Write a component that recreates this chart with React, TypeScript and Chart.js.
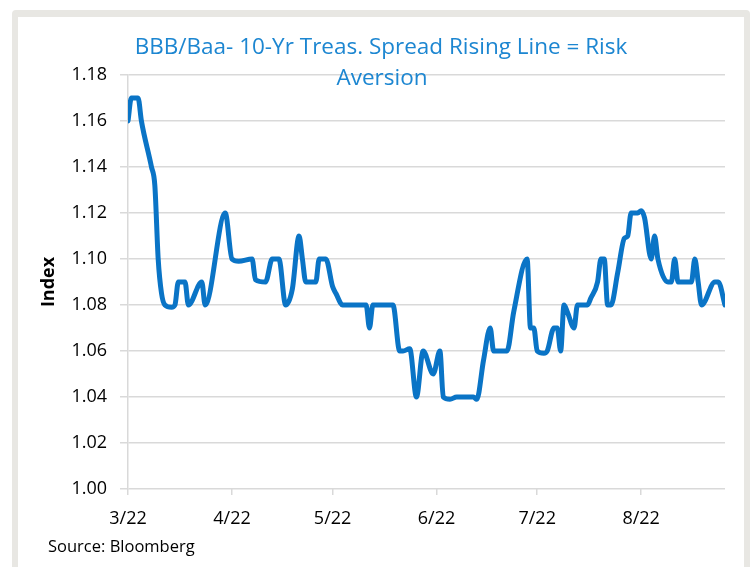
import React, { useEffect, useRef } from 'react';
import { Chart, registerables } from 'chart.js';

Chart.register(...registerables);

const TITLE_LINES = ['BBB/Baa- 10-Yr Treas. Spread Rising Line = Risk', 'Aversion'];
const Y_AXIS_TITLE = 'Index';
const SOURCE_TEXT = 'Source: Bloomberg';

const MONTH_LABELS = ['3/22', '4/22', '5/22', '6/22', '7/22', '8/22'];
const MONTH_START_DAYS = [0, 31, 61, 92, 122, 153];

const Y_TICK_MIN = 1.0;
const Y_TICK_MAX = 1.18;
const Y_TICK_STEP = 0.02;
const X_LAST_DAY = 178;

// Day offset from 1 March 2022
const DAYS = [
  0, 1, 2, 3, 4, 7, 8, 9, 10, 11, 13, 14, 15, 17, 18, 22, 23, 29, 31, 33,
  37, 38, 41, 43, 45, 47, 49, 51, 52, 53, 56, 57, 59, 61, 62, 64, 71, 72, 73, 79,
  81, 82, 84, 86, 88, 91, 93, 94, 96, 98, 103, 104, 106, 108, 109, 111, 113, 115, 119, 120,
  121, 122, 124, 125, 127, 128, 129, 130, 131, 133, 134, 137, 138, 140, 141, 142, 143, 144, 146, 148,
  149, 150, 152, 153, 154, 156, 157, 158, 161, 162, 163, 164, 168, 169, 170, 171, 175, 176, 178,
];

const VALUES = [
  1.16, 1.17, 1.17, 1.17, 1.16, 1.14, 1.132, 1.10, 1.085, 1.08, 1.079, 1.08, 1.09, 1.09, 1.08, 1.09, 1.08, 1.12, 1.10, 1.099,
  1.10, 1.091, 1.09, 1.10, 1.10, 1.08, 1.087, 1.11, 1.10, 1.09, 1.09, 1.10, 1.10, 1.088, 1.085, 1.08, 1.08, 1.07, 1.08, 1.08,
  1.06, 1.06, 1.061, 1.04, 1.06, 1.05, 1.06, 1.04, 1.039, 1.04, 1.04, 1.039, 1.056, 1.07, 1.06, 1.06, 1.06, 1.077, 1.10, 1.07,
  1.07, 1.06, 1.059, 1.06, 1.07, 1.07, 1.06, 1.08, 1.077, 1.07, 1.08, 1.08, 1.083, 1.09, 1.10, 1.10, 1.08, 1.08, 1.094, 1.109,
  1.11, 1.12, 1.12, 1.121, 1.118, 1.10, 1.11, 1.10, 1.09, 1.09, 1.10, 1.09, 1.09, 1.10, 1.09, 1.08, 1.09, 1.09, 1.08,
];

const LINE_COLOR = '#0a74c6';
const TITLE_COLOR = '#1c86d1';
const GRID_COLOR = '#d9d9d9';
const FONT_FAMILY = '"Open Sans", "Noto Sans", sans-serif';

const overlayText = {
  id: 'overlayText',
  afterDraw(chart: any) {
    const ctx = chart.ctx as CanvasRenderingContext2D;
    ctx.save();
    ctx.fillStyle = TITLE_COLOR;
    ctx.font = `22.5px ${FONT_FAMILY}`;
    ctx.textAlign = 'center';
    ctx.textBaseline = 'alphabetic';
    ctx.fillText(TITLE_LINES[0], 381, 54);
    ctx.fillText(TITLE_LINES[1], 382, 85);
    ctx.fillStyle = '#000000';
    ctx.font = `16.5px ${FONT_FAMILY}`;
    ctx.textAlign = 'left';
    ctx.fillText(SOURCE_TEXT, 48, 552);
    ctx.restore();
  },
};

export default function App() {
  const canvasRef = useRef<HTMLCanvasElement | null>(null);

  useEffect(() => {
    if (!canvasRef.current) return;
    const chart = new Chart(canvasRef.current, {
      type: 'line',
      data: {
        datasets: [
          {
            data: DAYS.map((d, i) => ({ x: d, y: VALUES[i] })),
            borderColor: LINE_COLOR,
            borderWidth: 5,
            pointRadius: 0,
            pointHoverRadius: 0,
            fill: false,
            cubicInterpolationMode: 'monotone',
            borderCapStyle: 'round',
            borderJoinStyle: 'round',
          },
        ],
      },
      options: {
        responsive: false,
        animation: false,
        devicePixelRatio: 1,
        layout: { padding: { top: 75, right: 29, bottom: 0, left: 0 } },
        plugins: {
          legend: { display: false },
          tooltip: { enabled: false },
          title: { display: false },
        },
        scales: {
          x: {
            type: 'linear',
            min: 0,
            max: X_LAST_DAY,
            afterBuildTicks: (scale: any) => {
              scale.ticks = MONTH_START_DAYS.map((v) => ({ value: v }));
            },
            afterFit: (scale: any) => {
              scale.height = 78;
            },
            grid: {
              drawOnChartArea: false,
              drawTicks: true,
              tickLength: 6,
              color: GRID_COLOR,
              lineWidth: 1.5,
            },
            border: { display: false },
            ticks: {
              autoSkip: false,
              maxRotation: 0,
              padding: 13,
              color: '#000000',
              font: { family: FONT_FAMILY, size: 18 },
              callback: (v: any) => {
                const i = MONTH_START_DAYS.indexOf(Number(v));
                return i >= 0 ? MONTH_LABELS[i] : '';
              },
            },
          },
          y: {
            min: Y_TICK_MIN,
            max: Y_TICK_MAX,
            afterFit: (scale: any) => {
              scale.width = 128;
            },
            grid: { color: GRID_COLOR, lineWidth: 1.5, tickLength: 8 },
            border: { display: true, color: GRID_COLOR, width: 1.5 },
            ticks: {
              stepSize: Y_TICK_STEP,
              padding: 13,
              color: '#000000',
              font: { family: FONT_FAMILY, size: 18 },
              callback: (v: any) => Number(v).toFixed(2),
            },
            title: {
              display: true,
              text: Y_AXIS_TITLE,
              color: '#000000',
              font: { family: FONT_FAMILY, size: 18, weight: 'bold' },
              padding: { top: 38, bottom: 0 },
            },
          },
        },
      },
      plugins: [overlayText],
    } as any);
    return () => chart.destroy();
  }, []);

  return (
    <div>
      <div
        style={{
          position: 'fixed',
          left: 12,
          top: 10,
          width: 738,
          height: 620,
          boxSizing: 'border-box',
          borderStyle: 'solid',
          borderColor: '#e8e7e3',
          borderWidth: '7px 6px 6px 6px',
          borderRadius: 4,
          background: '#ffffff',
        }}
      />
      <canvas
        ref={canvasRef}
        width={754}
        height={567}
        style={{ position: 'fixed', left: 0, top: 0, width: 754, height: 567 }}
      />
    </div>
  );
}
